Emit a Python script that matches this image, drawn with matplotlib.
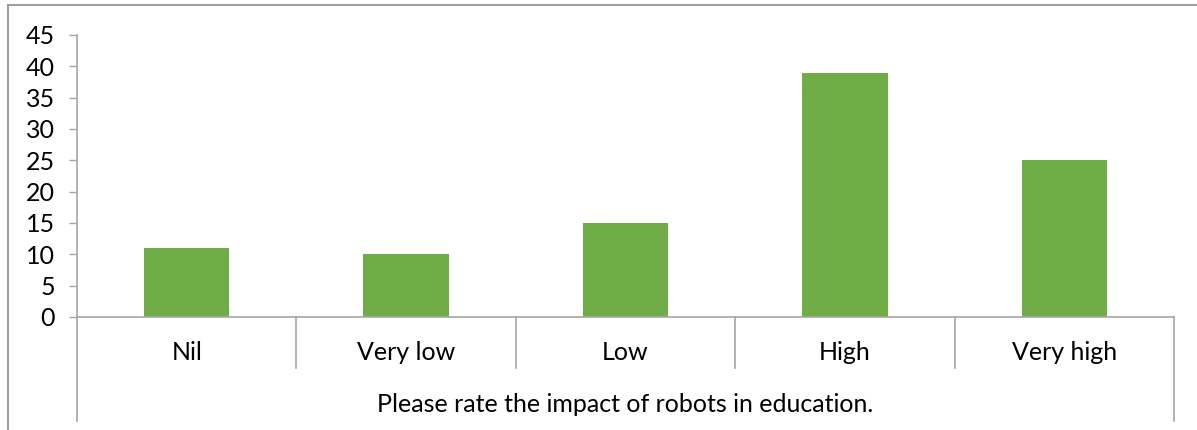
import matplotlib.pyplot as plt
from matplotlib.patches import Rectangle
import matplotlib.transforms as mtransforms

categories = ["Nil", "Very low", "Low", "High", "Very high"]
values = [11, 10, 15, 39, 25]
axis_title = "Please rate the impact of robots in education."
yticks = list(range(0, 50, 5))

plt.rcParams['font.family'] = ['Lato', 'DejaVu Sans']

W, H = 1197, 430
fig = plt.figure(figsize=(W / 100, H / 100), dpi=100)
ax = fig.add_axes([77 / W, 1 - 317 / H, (1174 - 77) / W, (317 - 35) / H])

gray = '#a6a6a6'
fs = 18
ax.bar(range(len(categories)), values, width=0.39, color='#70AD47', zorder=2)
ax.set_xlim(-0.5, len(categories) - 0.5)
ax.set_ylim(0, 45)
ax.set_yticks(yticks)
ax.set_xticks([])
ax.tick_params(axis='y', length=6, width=1, color=gray, labelsize=fs, pad=10)
for s in ['top', 'right']:
    ax.spines[s].set_visible(False)
for s in ['left', 'bottom']:
    ax.spines[s].set_color(gray)
    ax.spines[s].set_linewidth(1.2)

# multi-level category axis separators
trans = mtransforms.blended_transform_factory(ax.transData, ax.transAxes)
ah = 317 - 35
for i in range(1, len(categories)):
    ax.plot([i - 0.5, i - 0.5], [0, -51 / ah], transform=trans, color=gray,
            lw=1.2, clip_on=False)
for xe in [-0.5, len(categories) - 0.5]:
    ax.plot([xe, xe], [0, -104 / ah], transform=trans, color=gray,
            lw=1.2, clip_on=False)

for i, c in enumerate(categories):
    ax.text(i, -35 / ah, c, transform=trans, ha='center', va='center', fontsize=fs)
ax.text(0.5, -88 / ah, axis_title, transform=ax.transAxes, ha='center',
        va='center', fontsize=fs)

# chart border (cropped on right and bottom)
fig.patches.append(Rectangle((8 / W, -0.2), 1.2, 1.2 - 5 / H, transform=fig.transFigure,
                             fill=False, edgecolor='#9e9e9e', lw=1.5))

fig.savefig('out.png', dpi=100)
